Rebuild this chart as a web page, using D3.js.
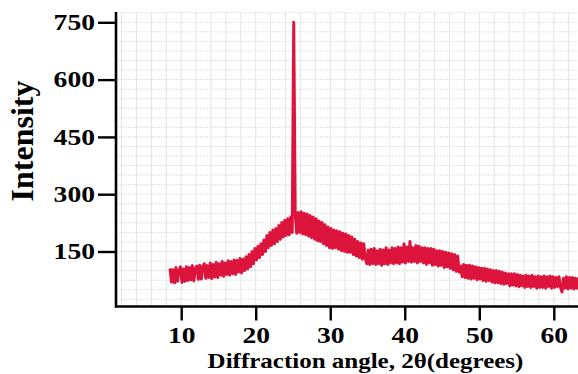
<!DOCTYPE html>
<html><head><meta charset="utf-8">
<script src="https://cdn.jsdelivr.net/npm/d3@7"></script>
<style>html,body{margin:0;padding:0;background:#fff;overflow:hidden}svg{display:block}</style>
</head><body>
<script>
// ---- data ----
const angleStart = 8.5;   // first sampled 2θ
const angleStep = 0.2;    // sampling step (degrees)
const intensity = [
  106, 70, 102, 68, 108, 72, 100, 110, 69, 104,
  72, 110, 74, 108, 76, 113, 73, 106, 112, 77,
  114, 78, 110, 118, 80, 113, 82, 120, 79, 116,
  83, 122, 82, 118, 88, 124, 85, 120, 90, 126,
  88, 124, 92, 128, 90, 127, 96, 132, 94, 130,
  100, 136, 104, 142, 110, 150, 118, 158, 128, 164,
  134, 170, 142, 180, 150, 192, 160, 200, 166, 206,
  170, 210, 176, 218, 182, 226, 188, 232, 192, 236,
  194, 240, 200, 750, 248, 198, 252, 200, 254, 196,
  250, 194, 248, 190, 244, 186, 240, 182, 236, 178,
  230, 176, 226, 170, 220, 166, 214, 160, 210, 158,
  206, 160, 204, 156, 202, 152, 198, 150, 196, 148,
  192, 148, 188, 142, 182, 138, 176, 134, 172, 130,
  170, 132, 118, 154, 116, 156, 118, 158, 116, 152,
  118, 156, 114, 154, 118, 160, 116, 154, 120, 160,
  118, 158, 120, 162, 118, 160, 122, 170, 120, 162,
  124, 176, 122, 160, 124, 166, 120, 164, 124, 160,
  120, 160, 116, 158, 120, 158, 114, 156, 116, 152,
  112, 152, 114, 150, 108, 148, 110, 146, 106, 144,
  102, 142, 98, 138, 96, 112, 84, 116, 82, 114,
  80, 114, 78, 112, 80, 110, 76, 108, 78, 106,
  74, 106, 72, 104, 74, 102, 70, 100, 68, 100,
  68, 98, 66, 96, 64, 94, 66, 92, 60, 92,
  62, 92, 60, 90, 58, 88, 60, 86, 56, 88,
  58, 86, 56, 88, 58, 84, 54, 86, 56, 84,
  56, 86, 54, 84, 58, 86, 54, 84, 56, 82,
  58, 84, 56, 44, 80, 54, 84, 52, 82, 54,
  82, 52, 80, 54, 82
];
const xTicks = [10, 20, 30, 40, 50, 60];
const yTicks = [150, 300, 450, 600, 750];
const xLabel = "Diffraction angle, 2θ(degrees)";
const yLabel = "Intensity";

const W = 578, H = 374;
const padL = 116, padT = 12, baseY = 306.5;
const sx = 1.2; // horizontal stretch of the lettering

const data = intensity.map((v, i) => ({ a: angleStart + i * angleStep, v }));

const x = d3.scaleLinear().domain([1.25, 66.2]).range([padL, 600]);
const y = d3.scaleLinear().domain([6, 777]).range([baseY, padT]);

const svg = d3.select("body").append("svg").attr("width", W).attr("height", H);

// grid
const grid = svg.append("g");
grid.selectAll("line.gx").data(d3.range(2, 66, 2)).join("line")
  .attr("x1", d => x(d)).attr("x2", d => x(d)).attr("y1", padT).attr("y2", baseY)
  .attr("stroke", "#e4e4e4").attr("stroke-width", 1);
grid.selectAll("line.gy").data(d3.range(25, 777, 25)).join("line")
  .attr("x1", padL).attr("x2", 600).attr("y1", d => y(d)).attr("y2", d => y(d))
  .attr("stroke", "#e2e2e2").attr("stroke-width", 1).attr("stroke-dasharray", "2,1");

// clip
svg.append("clipPath").attr("id", "clip").append("rect")
  .attr("x", padL).attr("y", padT - 2).attr("width", 600 - padL).attr("height", baseY - padT + 2);

svg.append("path").datum(data)
  .attr("clip-path", "url(#clip)")
  .attr("fill", "none").attr("stroke", "#dc143c").attr("stroke-width", 3)
  .attr("stroke-linejoin", "round")
  .attr("d", d3.line().x(d => x(d.a)).y(d => y(d.v)));

// axes
const fontFam = "'Liberation Serif','Times New Roman',serif";
const xAxis = svg.append("g").attr("transform", `translate(0,${baseY})`)
  .call(d3.axisBottom(x).tickValues(xTicks).tickSize(14).tickPadding(6).tickFormat(d3.format("d")));
const yAxis = svg.append("g").attr("transform", `translate(${padL},0)`)
  .call(d3.axisLeft(y).tickValues(yTicks).tickSize(18).tickPadding(3).tickFormat(d3.format("d")));
[xAxis, yAxis].forEach(g => {
  g.select(".domain").remove();
  g.selectAll(".tick line").attr("stroke", "#000").attr("stroke-width", 2.4);
  g.selectAll(".tick text").attr("fill", "#000").attr("font-family", fontFam)
    .attr("font-weight", "bold").attr("font-size", 23)
    .attr("transform", `scale(${sx},1)`);
});
xAxis.selectAll(".tick text").attr("dy", "0.72em");
yAxis.selectAll(".tick text").attr("x", -21 / sx);
// axis lines
svg.append("line").attr("x1", padL).attr("x2", padL).attr("y1", padT).attr("y2", baseY + 1)
  .attr("stroke", "#000").attr("stroke-width", 2.6);
svg.append("line").attr("x1", padL - 1).attr("x2", W + 5).attr("y1", baseY).attr("y2", baseY)
  .attr("stroke", "#000").attr("stroke-width", 2.6);

// labels
svg.append("text").attr("transform", `translate(365.5,368) scale(1.25,1)`).attr("text-anchor", "middle")
  .attr("font-family", fontFam).attr("font-weight", "bold").attr("font-size", 20)
  .text(xLabel);
svg.append("text").attr("transform", "translate(33,141) rotate(-90)").attr("text-anchor", "middle")
  .attr("font-family", fontFam).attr("font-weight", "bold").attr("font-size", 32)
  .text(yLabel);
</script>
</body></html>
